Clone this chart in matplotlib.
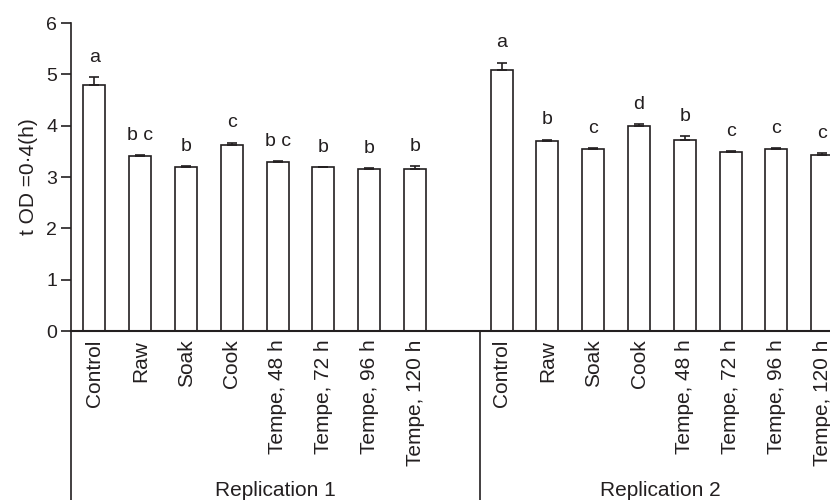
import numpy as np
import matplotlib.pyplot as plt
from matplotlib.lines import Line2D

plt.rcParams['font.family'] = ['Liberation Sans', 'DejaVu Sans']

categories = ['Control', 'Raw', 'Soak', 'Cook',
              'Tempe, 48 h', 'Tempe, 72 h', 'Tempe, 96 h', 'Tempe, 120 h']
groups = ['Replication 1', 'Replication 2']

rep1_vals = [4.79, 3.40, 3.19, 3.63, 3.29, 3.19, 3.16, 3.16]
rep1_err = [0.15, 0.03, 0.02, 0.04, 0.02, 0.0, 0.01, 0.05]
rep1_letters = ['a', 'b c', 'b', 'c', 'b c', 'b', 'b', 'b']

rep2_vals = [5.08, 3.70, 3.55, 4.00, 3.73, 3.49, 3.55, 3.43]
rep2_err = [0.15, 0.03, 0.01, 0.03, 0.06, 0.01, 0.01, 0.03]
rep2_letters = ['a', 'b', 'c', 'd', 'b', 'c', 'c', 'c']

ink = '#231f20'

fig = plt.figure(figsize=(8.3, 5.0), dpi=100)
ax = fig.add_axes([0.0855, 0.338, 0.9145, 0.616])

n = len(categories)
x1 = np.arange(n)
x2 = np.arange(n) + 8.89
width = 0.48
xleft, xright = -0.513, 16.06

for xs, vals, errs, letters in [(x1, rep1_vals, rep1_err, rep1_letters),
                                (x2, rep2_vals, rep2_err, rep2_letters)]:
    ax.bar(xs, vals, width, color='white', edgecolor=ink, linewidth=1.2, zorder=2)
    ax.errorbar(xs, vals, yerr=[np.zeros(n), errs], fmt='none', ecolor=ink,
                elinewidth=1.2, capsize=3.5, capthick=1.2, zorder=3)
    for xi, v, e, lab in zip(xs, vals, errs, letters):
        ax.annotate(lab, (xi, v + e), xytext=(0, 8), textcoords='offset points',
                    ha='center', va='bottom', fontsize=14, color=ink)

ax.set_xlim(xleft, xright)
ax.set_ylim(0, 6)
ax.set_yticks(range(0, 7))
ax.tick_params(axis='y', direction='out', length=7, width=1.2, labelsize=14,
               colors=ink, pad=3)
ax.set_xticks([])
for s in ['top', 'right']:
    ax.spines[s].set_visible(False)
ax.spines['left'].set_linewidth(1.2)
ax.spines['bottom'].set_linewidth(1.5)
ax.spines['left'].set_color(ink)
ax.spines['bottom'].set_color(ink)
ax.set_ylabel('t OD =0\u00b74(h)', fontsize=15, color=ink, labelpad=6)

# category labels under the bars
for xs in [x1, x2]:
    for xi, lab in zip(xs, categories):
        ax.text(xi, -0.17, lab, rotation=90, ha='center', va='top',
                fontsize=15, color=ink, clip_on=False)

# left spine extension and group separator
sep = x2[0] - 0.47
ax.add_line(Line2D([xleft, xleft], [0, -3.3], color=ink, lw=1.2, clip_on=False))
ax.add_line(Line2D([sep, sep], [0, -3.3], color=ink, lw=1.2, clip_on=False))

# group labels
ax.text((xleft + sep) / 2, -3.11, groups[0], ha='center', va='center',
        fontsize=15, color=ink, clip_on=False)
ax.text((sep + 16.3) / 2, -3.11, groups[1], ha='center', va='center',
        fontsize=15, color=ink, clip_on=False)

fig.savefig('out.png', dpi=100)
